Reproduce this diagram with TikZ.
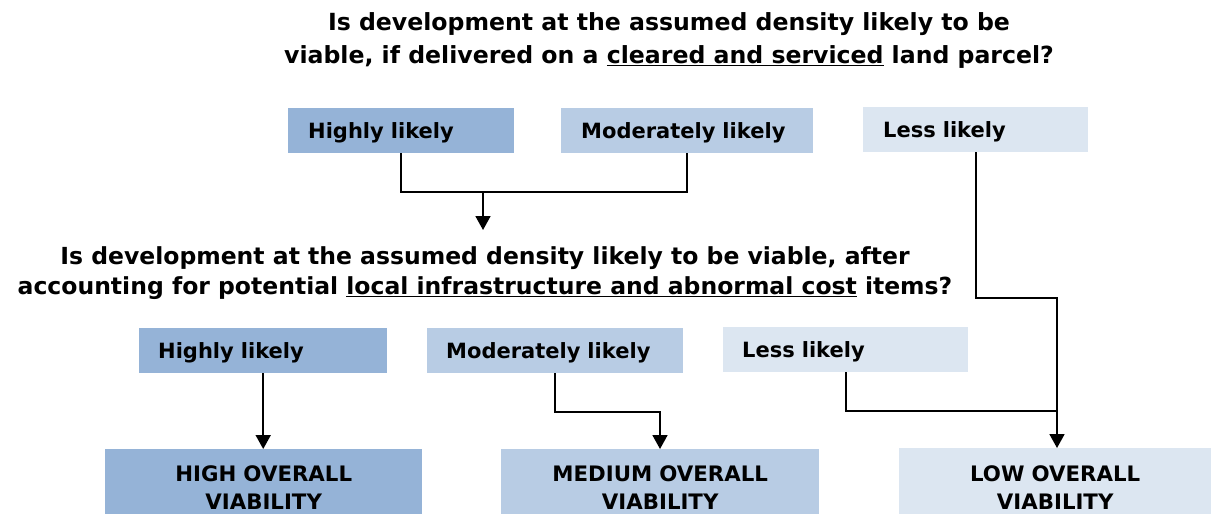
\documentclass[tikz,border=0pt]{standalone}
\usepackage{fontspec}
\setmainfont{DejaVu Sans}
\usetikzlibrary{arrows.meta}
\definecolor{cdark}{HTML}{95B3D7}
\definecolor{cmid}{HTML}{B8CCE4}
\definecolor{clight}{HTML}{DCE6F1}
\tikzset{
  opt/.style={anchor=north west, inner xsep=20pt, inner ysep=0pt, align=left,
    font=\fontsize{21}{24}\selectfont\bfseries, text depth=0pt},
  res/.style={anchor=north west, inner sep=0pt, align=center,
    font=\fontsize{21.3}{28}\selectfont\bfseries},
  quest/.style={align=center, inner sep=0pt},
  conn/.style={line width=1.8pt, black},
  arr/.style={conn, -{Triangle[width=15pt,length=14pt]}}
}
\begin{document}
\begin{tikzpicture}[x=1pt,y=-1pt]
\useasboundingbox (0,0) rectangle (1211,514);
% question 1
\node[quest, font=\fontsize{23.6}{33}\selectfont\bfseries] (q1) at (669,40) {Is development at the assumed density likely to be\\viable, if delivered on a \underline{cleared and serviced} land parcel?};
% top options
\node[opt, fill=cdark, minimum width=226pt, minimum height=45pt, text width=186pt] (t1) at (288,108) {Highly likely};
\node[opt, fill=cmid, minimum width=252pt, minimum height=45pt, text width=212pt] (t2) at (561,108) {Moderately likely};
\node[opt, fill=clight, minimum width=225pt, minimum height=45pt, text width=185pt] (t3) at (863,107) {Less likely};
% question 2
\node[quest, font=\fontsize{23.5}{30}\selectfont\bfseries] (q2) at (485,273) {Is development at the assumed density likely to be viable, after\\accounting for potential \underline{local infrastructure and abnormal cost} items?};
% bottom options
\node[opt, fill=cdark, minimum width=248pt, minimum height=45pt, text width=210pt, inner xsep=19pt] (b1) at (139,328) {Highly likely};
\node[opt, fill=cmid, minimum width=256pt, minimum height=45pt, text width=218pt, inner xsep=19pt] (b2) at (427,328) {Moderately likely};
\node[opt, fill=clight, minimum width=245pt, minimum height=45pt, text width=207pt, inner xsep=19pt] (b3) at (723,327) {Less likely};
% results
\node[res, fill=cdark, minimum width=317pt, minimum height=76pt, text width=317pt] (r1) at (105,449) {HIGH OVERALL\\VIABILITY};
\node[res, fill=cmid, minimum width=318pt, minimum height=76pt, text width=318pt] (r2) at (501,449) {MEDIUM OVERALL\\VIABILITY};
\node[res, fill=clight, minimum width=312pt, minimum height=78pt, text width=312pt] (r3) at (899,448) {LOW OVERALL\\VIABILITY};
% connectors
\coordinate (j1) at (483,192);
\coordinate (a1) at (483,230);
\draw[conn] (t1.south) |- (j1);
\draw[conn] (t2.south) |- (j1);
\draw[arr] (j1) -- (a1);
\draw[arr] (b1.south) -- (b1.south |- r1.north);
\coordinate (m1) at (660,412);
\draw[arr] (b2.south) |- (m1) -- (m1 |- r2.north);
\coordinate (l1) at (1057,411);
\coordinate (l2) at (1057,298);
\draw[conn] (b3.south) |- (l1);
\draw[arr] (t3.south) |- (l2) -- (l2 |- r3.north);
\end{tikzpicture}
\end{document}
